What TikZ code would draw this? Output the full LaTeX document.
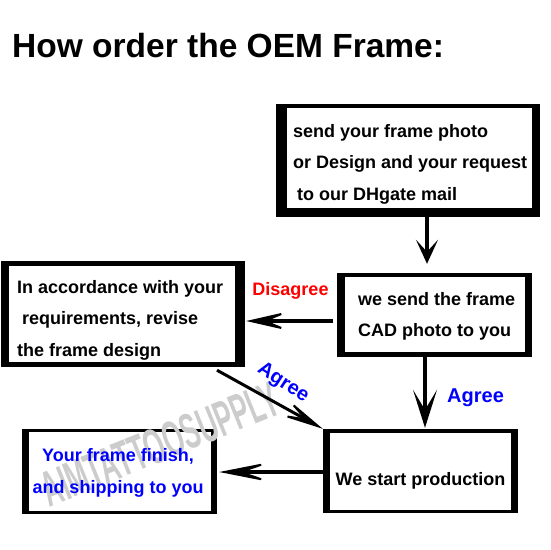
\documentclass[tikz,border=0pt]{standalone}
\usepackage{fontspec}
\setmainfont{Liberation Sans}
\usetikzlibrary{arrows.meta}

\begin{document}
\begin{tikzpicture}[x=1pt,y=-1pt,
    outerbox/.style={fill=black, inner sep=0pt},
    boxtext/.style={font=\bfseries\fontsize{18}{31.5}\selectfont, align=left, inner sep=0pt, anchor=west},
    note/.style={font=\bfseries\fontsize{18}{22}\selectfont, inner sep=0pt},
    agree/.style={font=\bfseries\fontsize{20}{24}\selectfont, inner sep=0pt, text=blue},
    wmark/.style={font=\bfseries\fontsize{50}{56}\selectfont, rotate=22, xscale=0.52, inner sep=0pt},
    arr/.style n args={3}{line width=4pt, -{Stealth[length=#1, width=#2, inset=#3, line width=2pt]}}]
\useasboundingbox (0,0) rectangle (550,550);

\node[anchor=base west, inner sep=0pt, font=\bfseries\fontsize{33.5}{40}\selectfont] (title) at (12,57) {How order the OEM Frame:};

% boxes
\node[outerbox, minimum width=264, minimum height=113] (send) at (408,160.5) {};
\fill[white] (287,108) rectangle (532,208);
\node[outerbox, minimum width=244, minimum height=106] (revise) at (123,314) {};
\fill[white] (9,266) rectangle (235,362);
\node[outerbox, minimum width=195, minimum height=84] (cad) at (434.5,315) {};
\fill[white] (345,277) rectangle (525,352);
\node[outerbox, minimum width=195, minimum height=84] (prod) at (420.5,471) {};
\fill[white] (330,433) rectangle (511,510);
\node[outerbox, minimum width=195, minimum height=85] (finish) at (119.5,471.5) {};
\fill[white] (29,432) rectangle (211,511);

% watermark
\node[wmark, text=gray!40] (mark) at (160,444) {AIMTATTOOSUPPLY};

% texts
\node[boxtext] (send-txt) at (293,164) {send your frame photo\\or Design and your request\\\hspace*{4pt}to our DHgate mail};
\node[boxtext] (revise-txt) at (17,320) {In accordance with your\\\hspace*{5pt}requirements, revise\\the frame design};
\node[boxtext] (cad-txt) at (358,316.5) {we send the frame\\CAD photo to you};
\node[boxtext, anchor=center] (prod-txt) at (420.5,480.5) {We start production};
\node[boxtext, anchor=center, align=center, text=blue] (finish-txt) at (118,473) {Your frame finish,\\and shipping to you};

\node[note, text=red, anchor=base] (disagree) at (290.5,295) {Disagree};
\node[agree, anchor=base west] (agree-down) at (447,402) {Agree};
\node[agree, rotate=-33] (agree-diag) at (283,383) {Agree};

% arrows
\draw[arr={24pt}{22pt}{12pt}, shorten >=9pt] ([xshift=19pt]send.south) -- ([xshift=-7.5pt]cad.north);
\draw[arr={46pt}{21pt}{25pt}, shorten >=1pt] ([xshift=-4pt,yshift=-6pt]cad.west) -- ([yshift=-7pt]revise.east);
\draw[arr={38pt}{24pt}{20pt}, shorten >=1pt] ([xshift=-9.5pt]cad.south) -- ([xshift=4.5pt]prod.north);
\draw[arr={56pt}{22pt}{32pt}, shorten >=2pt] ([yshift=-1pt]prod.west) -- ([yshift=-0.5pt]finish.east);
\draw[arr={50pt}{20pt}{28pt}, line width=3pt] ([xshift=94pt,yshift=-3pt]revise.south) -- (prod.north west);

\end{tikzpicture}
\end{document}
